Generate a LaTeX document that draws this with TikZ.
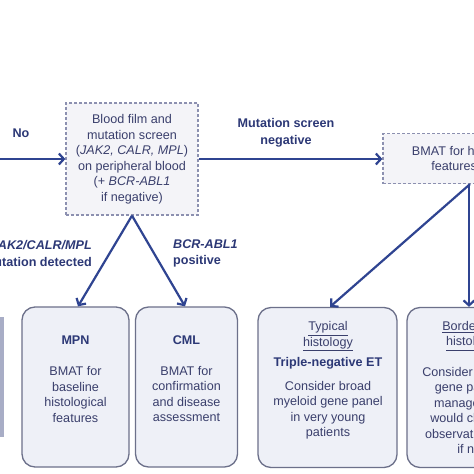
\documentclass[tikz,border=0pt]{standalone}
\usepackage{fontspec}
\setmainfont{Liberation Sans}
\usetikzlibrary{arrows.meta,positioning}

\definecolor{flowblue}{RGB}{47,68,145}
\definecolor{flowhead}{RGB}{44,56,118}
\definecolor{flowtext}{RGB}{58,63,108}
\definecolor{dashline}{RGB}{140,144,176}
\definecolor{boxline}{RGB}{108,112,138}
\definecolor{dashfill}{RGB}{244,244,248}
\definecolor{boxfill}{RGB}{238,240,247}
\definecolor{edgefill}{RGB}{168,173,198}

\begin{document}
\begin{tikzpicture}[
    x=1pt, y=-1pt,
    font=\fontsize{12.6}{15.5}\selectfont,
    screen/.style={rectangle, draw=dashline, dash pattern=on 3pt off 2pt, line width=1.3pt, fill=dashfill, align=center, text=flowtext, inner sep=0pt},
    outcome/.style={rectangle, draw=boxline, rounded corners=13pt, line width=1.3pt, fill=boxfill, minimum height=160pt, inner sep=0pt},
    boxtext/.style={align=center, text=flowtext, inner sep=0pt},
    arrow/.style={-{Straight Barb[length=5pt,width=11pt]}, line width=2.2pt, draw=flowblue},
    flowlabel/.style={font=\fontsize{12.6}{16.5}\selectfont\bfseries, text=flowhead, inner sep=0pt}
]
\useasboundingbox (0,0) rectangle (474,474);
\fill[white] (0,0) rectangle (474,474);
\clip (0,0) rectangle (474,474);

% Screening step
\node[screen, minimum width=132pt, minimum height=112pt] (blood) at (132,159) {Blood film and\\mutation screen\\(\textit{JAK2, CALR, MPL})\\on peripheral blood\\(+ \textit{BCR-ABL1}\\if negative)};
\node[screen, minimum width=176pt, minimum height=50pt] (bmat) at (471,158.5) {BMAT for histological\\features of ET};

% Outcome boxes
\node[rectangle, fill=edgefill, minimum width=20pt, minimum height=120pt, inner sep=0pt] (leftbox) at (-6,377) {};
\node[outcome, minimum width=107pt] (mpn) at (75.5,387) {};
\node[outcome, minimum width=102pt] (cml) at (186.5,387) {};
\node[outcome, minimum width=139pt] (typical) at (327.5,387.5) {};
\node[outcome, minimum width=128pt] (border) at (471,387.5) {};

% Outcome texts
\node[boxtext] (mpntext) at (75.5,379) {\textcolor{flowhead}{\textbf{MPN}}\\[15.5pt]BMAT for\\baseline\\histological\\features};
\node[boxtext] (cmltext) at (186.5,378.5) {\textcolor{flowhead}{\textbf{CML}}\\[15.5pt]BMAT for\\confirmation\\and disease\\assessment};
\node[boxtext] (typicaltext) at (328,380.5) {\underline{Typical}\\\underline{histology}\\[5pt]\textcolor{flowhead}{\textbf{Triple-negative ET}}\\[8pt]Consider broad\\myeloid gene panel\\in very young\\patients};
\node[boxtext] (bordertext) at (471,387.5) {\underline{Borderline}\\\underline{histology}\\[15pt]Consider myeloid\\gene panel if\\management\\would change,\\observation only\\if not};

% Branch labels
\node[flowlabel] (nolabel) at (21,133) {No};
\node[flowlabel, align=center] (negative) at (286,133) {Mutation screen\\negative};
\node[flowlabel, align=right, anchor=east] (detected) at (92,253.5) {\textit{JAK2/CALR/MPL}\\mutation detected};
\node[flowlabel, align=left, anchor=west] (positive) at (173,253.5) {\textit{BCR-ABL1}\\positive};

% Main flow arrows
\coordinate (noin) at (-10,159);
\draw[arrow] (noin) -- (blood.west);
\draw[arrow] (blood.east) -- (blood.east -| bmat.west);

% Screen to outcomes
\draw[arrow] (blood.south) -- ([xshift=2.5pt]mpn.north);
\draw[arrow] (blood.south) -- ([xshift=-1.5pt]cml.north);
\draw[arrow] ([xshift=-1pt]bmat.south) -- ([xshift=2.5pt]typical.north);
\draw[arrow] ([xshift=-2pt]bmat.south) -- ([xshift=-2pt]border.north);

\end{tikzpicture}
\end{document}
